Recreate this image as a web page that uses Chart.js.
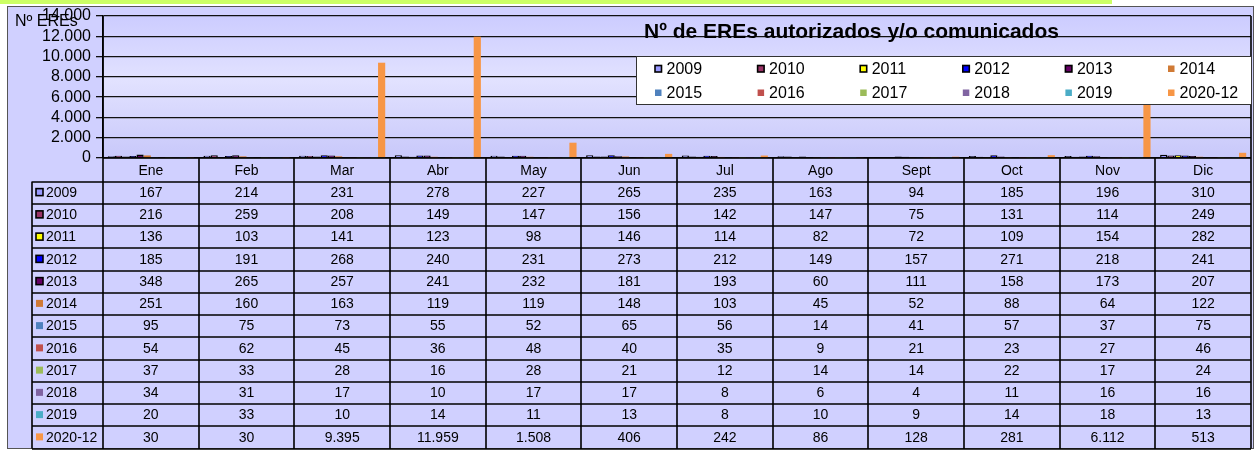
<!DOCTYPE html>
<html>
<head>
<meta charset="utf-8">
<title>Nº de EREs autorizados y/o comunicados</title>
<script src="https://cdn.jsdelivr.net/npm/chart.js@4.4.1/dist/chart.umd.min.js"></script>
<style>
  html, body { margin: 0; padding: 0; background: #fff; }
  canvas { display: block; }
</style>
</head>
<body>
<canvas id="grafico" width="1258" height="450"></canvas>
<script>
// Datos del gráfico
const meses = ['Ene', 'Feb', 'Mar', 'Abr', 'May', 'Jun', 'Jul', 'Ago', 'Sept', 'Oct', 'Nov', 'Dic'];
const series = ['2009', '2010', '2011', '2012', '2013', '2014', '2015', '2016', '2017', '2018', '2019', '2020-12'];

const v2009 = [167, 214, 231, 278, 227, 265, 235, 163, 94, 185, 196, 310];
const v2010 = [216, 259, 208, 149, 147, 156, 142, 147, 75, 131, 114, 249];
const v2011 = [136, 103, 141, 123, 98, 146, 114, 82, 72, 109, 154, 282];
const v2012 = [185, 191, 268, 240, 231, 273, 212, 149, 157, 271, 218, 241];
const v2013 = [348, 265, 257, 241, 232, 181, 193, 60, 111, 158, 173, 207];
const v2014 = [251, 160, 163, 119, 119, 148, 103, 45, 52, 88, 64, 122];
const v2015 = [95, 75, 73, 55, 52, 65, 56, 14, 41, 57, 37, 75];
const v2016 = [54, 62, 45, 36, 48, 40, 35, 9, 21, 23, 27, 46];
const v2017 = [37, 33, 28, 16, 28, 21, 12, 14, 14, 22, 17, 24];
const v2018 = [34, 31, 17, 10, 17, 17, 8, 6, 4, 11, 16, 16];
const v2019 = [20, 33, 10, 14, 11, 13, 8, 10, 9, 14, 18, 13];
const v2020 = [30, 30, 9395, 11959, 1508, 406, 242, 86, 128, 281, 6112, 513];

const valores = [v2009, v2010, v2011, v2012, v2013, v2014, v2015, v2016, v2017, v2018, v2019, v2020];

const yTicks = [0, 2000, 4000, 6000, 8000, 10000, 12000, 14000];

// Estilos
const colores = ['#9999ff', '#993366', '#ffff00', '#0000ff', '#660066', '#d07a35',
                 '#4f81bd', '#c0504d', '#9bbb59', '#8064a2', '#4bacc6', '#f79646'];
const conBorde = [true, true, true, true, true, false, false, false, false, false, false, false];

const FONT = '"Liberation Sans", Arial, sans-serif';
Chart.defaults.font.family = FONT;
Chart.defaults.color = '#000';

function fmt(v) {
    return String(v).replace(/\B(?=(\d{3})+(?!\d))/g, '.');
}

function swatch(ctx, x, y, s, i) {
    ctx.fillStyle = colores[i];
    ctx.fillRect(x, y, s, s);
    if (conBorde[i]) {
        ctx.strokeStyle = '#000';
        ctx.lineWidth = 1.6;
        ctx.strokeRect(x, y, s, s);
    }
}

// Fondo, tabla de datos, leyenda y títulos
const decorado = {
    id: 'decorado',
    beforeDraw(chart) {
        const { ctx, chartArea: a, width: W, height: H } = chart;
        ctx.save();
        ctx.fillStyle = '#fff';
        ctx.fillRect(0, 0, W, H);
        ctx.fillStyle = '#ccff66';
        ctx.fillRect(0, 0, 1112, 4);
        // marco exterior
        ctx.fillStyle = '#d0d0ff';
        ctx.fillRect(7, 6, W - 11, H - 7);
        ctx.strokeStyle = '#555';
        ctx.lineWidth = 1;
        ctx.strokeRect(7.5, 6.5, W - 12, H - 8);
        // área de trazado
        const g = ctx.createLinearGradient(0, a.top, 0, a.bottom);
        g.addColorStop(0, '#ccccff');
        g.addColorStop(0.45, '#e2e2ff');
        g.addColorStop(1, '#c8c8fa');
        ctx.fillStyle = g;
        ctx.fillRect(a.left, a.top, a.right - a.left, a.bottom - a.top);
        ctx.restore();
    },
    afterDraw(chart) {
        const { ctx, chartArea: a } = chart;
        const x = chart.scales.x;
        const n = meses.length;
        const colW = (a.right - a.left) / n;
        const headBottom = a.bottom + 23.5;
        const tableBottom = chart.height - 1.5;
        const rowH = (tableBottom - headBottom) / series.length;
        const labelLeft = 32;

        ctx.save();
        ctx.strokeStyle = '#000';
        ctx.lineWidth = 1.6;
        // líneas horizontales
        ctx.beginPath();
        ctx.moveTo(a.left, a.bottom); ctx.lineTo(a.right, a.bottom);
        for (let r = 0; r <= series.length; r++) {
            const y = Math.round(headBottom + r * rowH);
            ctx.moveTo(labelLeft, y); ctx.lineTo(a.right, y);
        }
        // líneas verticales
        ctx.moveTo(labelLeft, headBottom); ctx.lineTo(labelLeft, tableBottom);
        for (let c = 0; c <= n; c++) {
            const xx = Math.round(a.left + c * colW);
            ctx.moveTo(xx, c === 0 || c === n ? a.top : a.bottom);
            ctx.lineTo(xx, tableBottom);
        }
        ctx.stroke();

        // textos de la tabla
        ctx.font = '14px ' + FONT;
        ctx.textBaseline = 'middle';
        series.forEach((s, r) => {
            const yc = headBottom + (r + 0.5) * rowH;
            swatch(ctx, 36, yc - 4, 7, r);
            ctx.fillStyle = '#000';
            ctx.textAlign = 'left';
            ctx.fillText(s, 46, yc + 0.5);
            ctx.textAlign = 'center';
            valores[r].forEach((v, c) => {
                ctx.fillText(fmt(v), x.getPixelForValue(c), yc + 0.5);
            });
        });

        // leyenda
        const lx = 636, ly = 56, lw = a.right - lx, lh = 48;
        ctx.fillStyle = '#fff';
        ctx.fillRect(lx, ly, lw, lh);
        ctx.strokeStyle = '#333';
        ctx.lineWidth = 1;
        ctx.strokeRect(lx + 0.5, ly + 0.5, lw, lh);
        ctx.font = '16px ' + FONT;
        ctx.textAlign = 'left';
        series.forEach((s, i) => {
            const col = i % 6, row = Math.floor(i / 6);
            const sx = 655 + col * 102.6;
            const sy = row === 0 ? 69 : 93;
            swatch(ctx, sx, sy - 3.5, 6.5, i);
            ctx.fillStyle = '#000';
            ctx.fillText(s, sx + 11.5, sy + 0.5);
        });

        // títulos
        ctx.font = 'bold 21px ' + FONT;
        ctx.textAlign = 'left';
        ctx.fillStyle = '#000';
        ctx.fillText('Nº de EREs autorizados y/o comunicados', 644, 32);
        ctx.font = '16px ' + FONT;
        ctx.fillText('Nº EREs', 15, 22);
        ctx.restore();
    }
};

const datasets = series.map((s, i) => ({
    label: s,
    data: valores[i],
    backgroundColor: colores[i],
    borderColor: '#000',
    borderWidth: conBorde[i] ? 1.5 : 0,
    barPercentage: 1,
    categoryPercentage: 0.9
}));

new Chart(document.getElementById('grafico').getContext('2d'), {
    type: 'bar',
    data: { labels: meses, datasets },
    options: {
        responsive: false,
        animation: false,
        devicePixelRatio: 1,
        layout: { padding: { left: 0, right: 7, top: 16, bottom: 2 } },
        plugins: {
            legend: { display: false },
            title: { display: false },
            tooltip: { enabled: false }
        },
        scales: {
            x: {
                grid: { display: false, drawTicks: false },
                border: { display: false },
                ticks: { font: { size: 14 }, color: '#000', padding: 5, maxRotation: 0 },
                afterFit: s => { s.height = 290; }
            },
            y: {
                min: 0,
                max: 14000,
                afterBuildTicks: s => { s.ticks = yTicks.map(v => ({ value: v })); },
                ticks: { font: { size: 16 }, color: '#000', padding: 5, autoSkip: false, callback: v => fmt(v) },
                grid: { color: '#111', tickLength: 7, lineWidth: 1.3 },
                border: { color: '#000', width: 1.5 },
                afterFit: s => { s.width = 103; }
            }
        }
    },
    plugins: [decorado]
});
</script>
</body>
</html>
